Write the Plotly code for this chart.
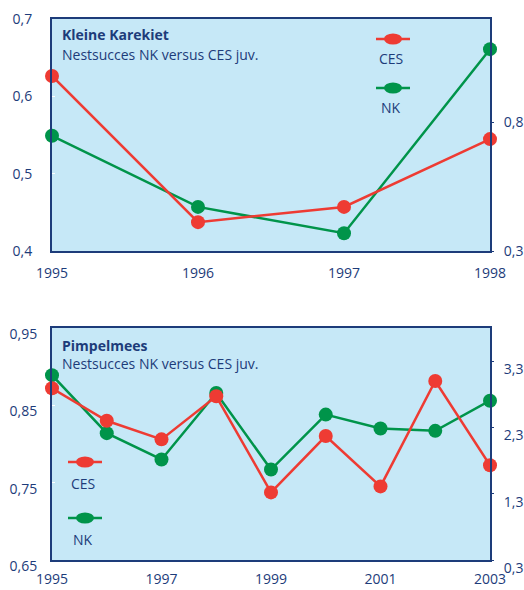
import plotly.graph_objects as go

# ---- data ----
years_kk = [1995, 1996, 1997, 1998]
nk_kk = [0.549, 0.457, 0.423, 0.661]
ces_kk = [0.979, 0.412, 0.471, 0.734]

years_pm = [1995, 1996, 1997, 1998, 1999, 2000, 2001, 2002, 2003]
nk_pm = [0.889, 0.814, 0.780, 0.866, 0.767, 0.838, 0.820, 0.817, 0.856]
ces_pm = [2.89, 2.40, 2.12, 2.77, 1.32, 2.17, 1.41, 3.00, 1.73]

kk_left_ticks = [0.4, 0.5, 0.6, 0.7]
kk_left_text = ["0,4", "0,5", "0,6", "0,7"]
kk_right_ticks = [0.3, 0.8]
kk_right_text = ["0,3", "0,8"]
kk_x_ticks = [1995, 1996, 1997, 1998]

pm_left_ticks = [0.65, 0.75, 0.85, 0.95]
pm_left_text = ["0,65", "0,75", "0,85", "0,95"]
pm_right_ticks = [0.3, 1.3, 2.3, 3.3]
pm_right_text = ["0,3", "1,3", "2,3", "3,3"]
pm_x_ticks = [1995, 1997, 1999, 2001, 2003]

titles = ["Kleine Karekiet", "Pimpelmees"]
subtitle = "Nestsucces NK versus CES juv."

# ---- style ----
W, H = 524, 590
BG = "#c6e8f7"
NAVY = "#1d3c7a"
RED = "#ee3b33"
GREEN = "#00944a"
FONT = "Open Sans"

def px(x):
    return x / W

def py(y):
    return 1 - y / H

fig = go.Figure()

def line_trace(x, y, color, xa, ya, name):
    return go.Scatter(x=x, y=y, mode="lines+markers", name=name, xaxis=xa, yaxis=ya,
                      line=dict(color=color, width=2.5),
                      marker=dict(color=color, size=14, line=dict(width=0)),
                      showlegend=False, cliponaxis=False)

# top chart
fig.add_trace(line_trace(years_kk, nk_kk, GREEN, "x", "y", "NK"))
fig.add_trace(line_trace(years_kk, ces_kk, RED, "x", "y2", "CES"))
# bottom chart
fig.add_trace(line_trace(years_pm, nk_pm, GREEN, "x2", "y3", "NK"))
fig.add_trace(line_trace(years_pm, ces_pm, RED, "x2", "y4", "CES"))

axfont = dict(family=FONT, size=14, color=NAVY)
common = dict(showgrid=False, zeroline=False, showline=True, linecolor=NAVY, linewidth=2,
              tickfont=axfont, automargin=False)

top_dom = [py(251), py(19)]
bot_dom = [py(560), py(328)]
xdom = [px(52), px(490)]

fig.update_layout(
    width=W, height=H,
    margin=dict(l=0, r=0, t=0, b=0, pad=0),
    paper_bgcolor="white",
    plot_bgcolor=BG,
    font=dict(family=FONT, color=NAVY),
    xaxis=dict(domain=xdom, anchor="y", range=[1995, 1998], tickvals=kk_x_ticks,
               ticks="", mirror=True, ticklabelstandoff=8, **common),
    yaxis=dict(domain=top_dom, anchor="x", range=[0.4, 0.7], tickvals=kk_left_ticks,
               ticktext=kk_left_text, ticks="inside", ticklen=3, tickcolor="white",
               mirror=True, ticklabelstandoff=15, **common),
    yaxis2=dict(overlaying="y", side="right", anchor="x", range=[0.3, 1.2],
                tickvals=kk_right_ticks, ticktext=kk_right_text, ticks="outside",
                ticklen=2, tickcolor=NAVY, ticklabelstandoff=7, **common),
    xaxis2=dict(domain=xdom, anchor="y3", range=[1995, 2003], tickvals=pm_x_ticks,
                ticks="", mirror=True, ticklabelstandoff=5, **common),
    yaxis3=dict(domain=bot_dom, anchor="x2", range=[0.65, 0.95], tickvals=pm_left_ticks,
                ticktext=pm_left_text, ticks="inside", ticklen=3, tickcolor="white",
                mirror=True, ticklabelshift=6, ticklabelstandoff=10, **common),
    yaxis4=dict(overlaying="y3", side="right", anchor="x2", range=[0.3, 3.8],
                tickvals=pm_right_ticks, ticktext=pm_right_text, ticks="outside",
                ticklen=2, tickcolor=NAVY, ticklabelshift=8, ticklabelstandoff=7, **common),
)

# titles
ann = []
for title, ty, sy in [(titles[0], 35, 54), (titles[1], 345, 363)]:
    ann.append(dict(x=px(60), y=py(ty), xref="paper", yref="paper", xanchor="left",
                    yanchor="middle", showarrow=False, text="<b>%s</b>" % title,
                    font=dict(family=FONT, size=14, color=NAVY)))
    ann.append(dict(x=px(60), y=py(sy), xref="paper", yref="paper", xanchor="left",
                    yanchor="middle", showarrow=False, text=subtitle,
                    font=dict(family=FONT, size=14, color=NAVY)))

# legends (custom)
shapes = []
legend_items = [
    (393, 39, 59, RED, "CES"), (393, 88, 107, GREEN, "NK"),
    (85, 462, 483, RED, "CES"), (85, 518, 539, GREEN, "NK"),
]
for cx, ly, ty, color, label in legend_items:
    shapes.append(dict(type="line", xref="paper", yref="paper",
                       x0=px(cx - 17), x1=px(cx + 17), y0=py(ly), y1=py(ly),
                       line=dict(color=color, width=2.5)))
    shapes.append(dict(type="circle", xref="paper", yref="paper",
                       x0=px(cx - 9), x1=px(cx + 9), y0=py(ly - 5.5), y1=py(ly + 5.5),
                       fillcolor=color, line=dict(width=0)))
    ann.append(dict(x=px(cx - 2), y=py(ty), xref="paper", yref="paper", xanchor="center",
                    yanchor="middle", showarrow=False, text=label,
                    font=dict(family=FONT, size=14, color=NAVY)))

fig.update_layout(annotations=ann, shapes=shapes)

fig.write_html(
    "out.html",
    config={"displayModeBar": False},
    post_script="document.body.style.margin='0px';document.body.style.overflow='hidden';",
)
